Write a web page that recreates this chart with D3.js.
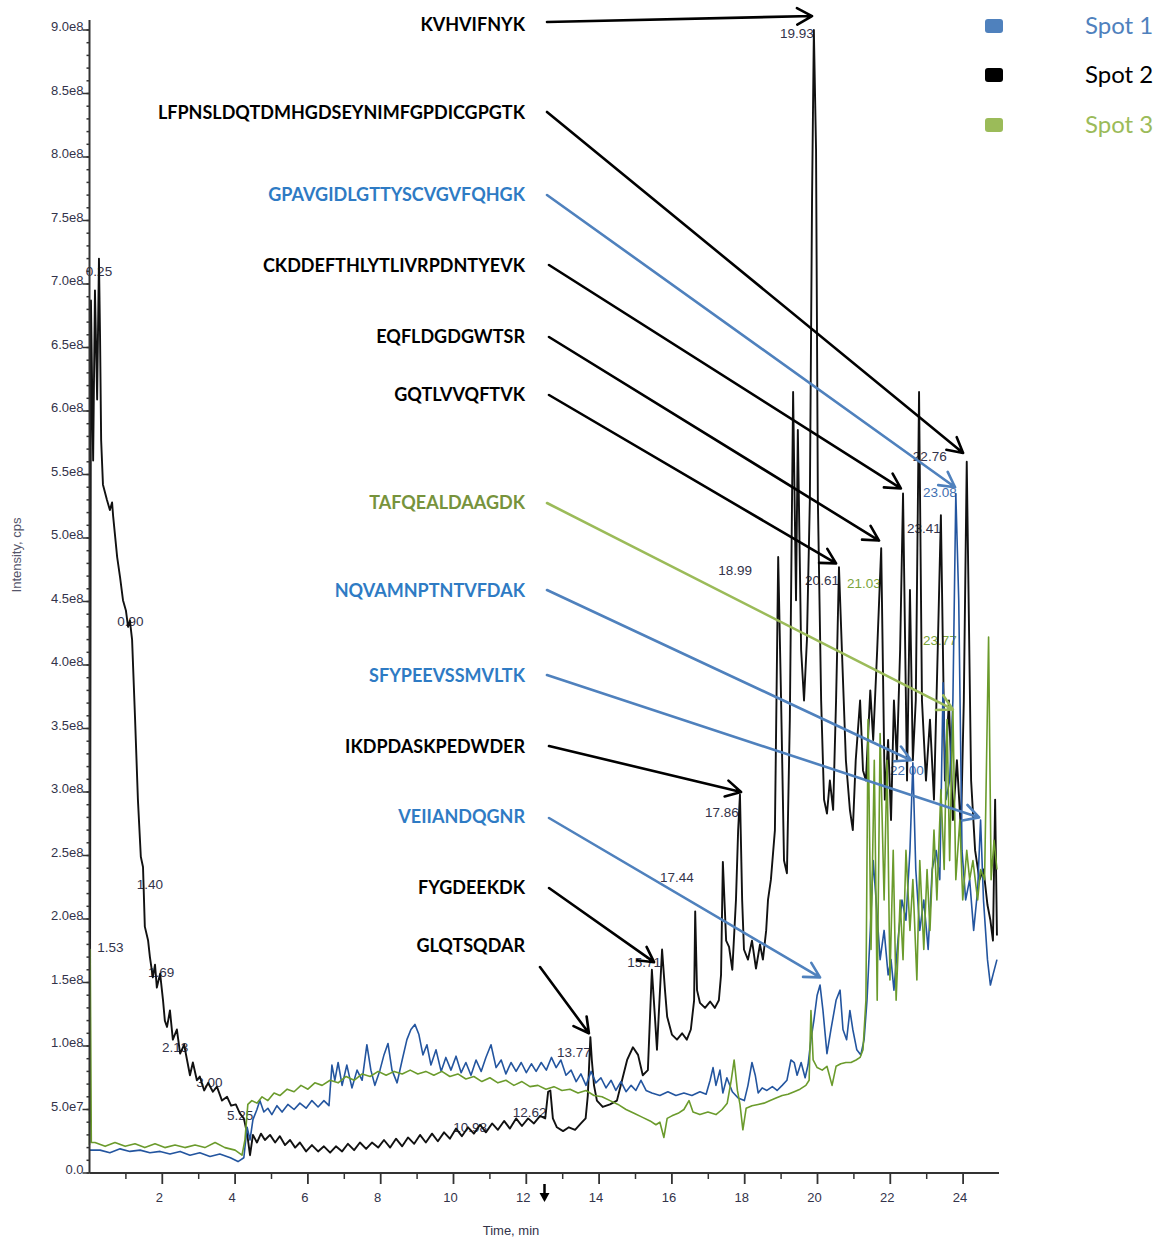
<!DOCTYPE html>
<html>
<head>
<meta charset="utf-8">
<script src="https://cdn.jsdelivr.net/npm/d3@7"></script>
<style>
  body { margin: 0; background: #fff; }
</style>
</head>
<body>
<svg id="chart" width="1162" height="1238"></svg>
<script>
// time in min, intensity in units of 1e7 cps
const spot2 = [
  [0.01, 4.6], [0.04, 68.7], [0.10, 56.1], [0.15, 69.5], [0.21, 60.9], [0.26, 72.0], [0.29, 65.8],
  [0.32, 57.7], [0.37, 54.2], [0.48, 53.0], [0.56, 52.2], [0.62, 52.8], [0.65, 51.7], [0.76, 48.5],
  [0.84, 46.9], [0.92, 45.1], [1.00, 44.3], [1.06, 43.0], [1.11, 43.5], [1.17, 42.0], [1.25, 35.9],
  [1.33, 29.4], [1.41, 24.9], [1.47, 24.1], [1.52, 19.4], [1.61, 18.3], [1.66, 17.0], [1.74, 15.4],
  [1.80, 16.4], [1.85, 14.6], [1.94, 15.7], [2.02, 13.6], [2.07, 12.0], [2.13, 11.5], [2.21, 12.8],
  [2.29, 10.5], [2.40, 11.3], [2.49, 9.4], [2.60, 10.1], [2.68, 8.9], [2.76, 7.7], [2.84, 8.7],
  [2.95, 7.3], [3.03, 7.6], [3.15, 6.5], [3.26, 7.1], [3.39, 6.4], [3.50, 6.8], [3.64, 5.7],
  [3.78, 6.0], [3.89, 5.3], [4.02, 5.4], [4.13, 4.7], [4.24, 4.3], [4.33, 3.1], [4.41, 1.4],
  [4.49, 3.0], [4.60, 2.4], [4.71, 3.1], [4.82, 2.6], [4.96, 3.0], [5.10, 2.4], [5.23, 2.9],
  [5.37, 2.2], [5.51, 2.6], [5.65, 2.0], [5.78, 2.4], [5.95, 1.7], [6.11, 2.2], [6.28, 1.7],
  [6.44, 2.1], [6.61, 1.6], [6.77, 2.1], [6.94, 1.7], [7.10, 2.3], [7.27, 1.8], [7.43, 2.4],
  [7.60, 1.9], [7.76, 2.4], [7.93, 2.0], [8.09, 2.6], [8.26, 2.0], [8.42, 2.7], [8.59, 2.1],
  [8.75, 2.8], [8.92, 2.3], [9.08, 3.0], [9.24, 2.4], [9.41, 3.1], [9.57, 2.5], [9.74, 3.2],
  [9.90, 2.7], [10.07, 3.5], [10.23, 2.9], [10.40, 3.6], [10.56, 3.1], [10.73, 3.8], [10.89, 3.2],
  [11.06, 3.9], [11.22, 3.4], [11.39, 4.1], [11.55, 3.5], [11.72, 4.3], [11.88, 3.7], [12.05, 4.3],
  [12.21, 3.9], [12.38, 4.5], [12.52, 4.3], [12.60, 6.4], [12.66, 6.5], [12.73, 4.3], [12.84, 3.6],
  [13.01, 3.3], [13.17, 3.6], [13.34, 3.4], [13.50, 3.9], [13.63, 4.3], [13.69, 6.1], [13.76, 10.7],
  [13.80, 8.9], [13.86, 6.9], [13.94, 5.7], [14.10, 5.2], [14.30, 5.4], [14.49, 5.7], [14.63, 7.3],
  [14.77, 8.9], [14.93, 9.9], [15.07, 9.3], [15.20, 7.7], [15.34, 8.1], [15.45, 16.0], [15.54, 12.0],
  [15.59, 9.7], [15.73, 17.6], [15.81, 14.4], [15.87, 12.3], [16.00, 10.9], [16.14, 10.5], [16.28, 11.0],
  [16.41, 10.5], [16.52, 11.3], [16.61, 13.6], [16.64, 20.6], [16.69, 14.4], [16.77, 13.4], [16.91, 13.0],
  [17.05, 13.5], [17.18, 13.0], [17.29, 13.6], [17.35, 15.6], [17.40, 24.5], [17.49, 18.3], [17.57, 17.8],
  [17.66, 16.0], [17.76, 21.5], [17.82, 27.0], [17.87, 29.8], [17.93, 21.5], [17.98, 17.6], [18.09, 16.8],
  [18.20, 18.3], [18.31, 16.1], [18.42, 18.0], [18.50, 16.8], [18.59, 19.1], [18.64, 21.5], [18.72, 23.1],
  [18.83, 27.0], [18.92, 48.5], [19.00, 37.2], [19.08, 24.6], [19.16, 23.6], [19.24, 35.7], [19.33, 61.5],
  [19.41, 45.1], [19.46, 58.5], [19.55, 41.2], [19.63, 37.2], [19.71, 42.0], [19.79, 53.0], [19.85, 76.6],
  [19.90, 90.0], [19.96, 80.6], [20.01, 53.0], [20.10, 37.2], [20.18, 29.4], [20.26, 28.3], [20.34, 30.9],
  [20.43, 28.6], [20.51, 37.2], [20.59, 47.7], [20.67, 41.2], [20.78, 32.5], [20.89, 28.6], [20.97, 27.0],
  [21.05, 32.5], [21.17, 37.2], [21.25, 31.7], [21.33, 30.9], [21.45, 38.0], [21.53, 34.1], [21.64, 41.2],
  [21.75, 49.2], [21.85, 29.4], [21.94, 34.1], [22.02, 27.8], [22.10, 37.2], [22.18, 32.5], [22.27, 41.2],
  [22.35, 53.5], [22.46, 30.9], [22.54, 45.9], [22.62, 32.5], [22.70, 37.2], [22.79, 61.5], [22.87, 37.2],
  [22.98, 30.9], [23.09, 35.7], [23.20, 29.4], [23.31, 42.0], [23.39, 51.8], [23.50, 30.9], [23.61, 37.2],
  [23.72, 27.8], [23.83, 32.5], [23.94, 27.0], [24.02, 37.2], [24.10, 56.0], [24.22, 30.9], [24.33, 25.4],
  [24.45, 23.1], [24.56, 23.9], [24.67, 21.1], [24.75, 19.9], [24.82, 18.3], [24.88, 29.4], [24.93, 18.7]
];

const spot1 = [
  [0.01, 1.8], [0.29, 1.8], [0.56, 1.6], [0.84, 1.9], [1.11, 1.7], [1.39, 1.8], [1.66, 1.6],
  [1.94, 1.7], [2.21, 1.5], [2.49, 1.7], [2.76, 1.4], [3.03, 1.6], [3.31, 1.3], [3.58, 1.5],
  [3.87, 1.2], [4.08, 0.9], [4.24, 1.2], [4.33, 3.6], [4.41, 2.6], [4.49, 4.2], [4.60, 5.0],
  [4.68, 5.7], [4.79, 4.8], [4.90, 5.1], [5.01, 4.6], [5.15, 5.3], [5.29, 4.8], [5.45, 5.4],
  [5.62, 5.0], [5.78, 5.5], [5.95, 5.1], [6.11, 5.7], [6.28, 5.2], [6.44, 5.7], [6.58, 5.3],
  [6.66, 8.5], [6.74, 7.3], [6.83, 8.7], [6.94, 6.9], [7.07, 8.5], [7.21, 6.7], [7.35, 8.1],
  [7.49, 7.3], [7.62, 10.1], [7.73, 8.1], [7.84, 6.9], [7.98, 8.1], [8.09, 9.3], [8.20, 10.2],
  [8.31, 8.1], [8.45, 7.1], [8.59, 8.9], [8.72, 10.5], [8.83, 11.3], [8.94, 11.7], [9.05, 10.9],
  [9.16, 9.3], [9.27, 10.1], [9.38, 8.5], [9.52, 9.7], [9.66, 8.0], [9.79, 9.1], [9.93, 8.1],
  [10.07, 9.2], [10.21, 7.9], [10.34, 8.7], [10.48, 7.7], [10.62, 8.9], [10.76, 8.0], [10.89, 9.1],
  [11.03, 10.1], [11.17, 8.3], [11.31, 8.9], [11.44, 7.8], [11.58, 8.7], [11.72, 8.0], [11.86, 8.7],
  [12.00, 7.9], [12.14, 8.6], [12.27, 8.0], [12.41, 8.7], [12.55, 8.1], [12.69, 9.1], [12.82, 8.3],
  [12.95, 8.9], [13.09, 7.7], [13.23, 8.1], [13.37, 7.2], [13.50, 7.8], [13.64, 6.9], [13.78, 8.0],
  [13.91, 7.1], [14.05, 7.5], [14.19, 6.7], [14.33, 7.3], [14.46, 6.5], [14.60, 7.2], [14.74, 6.4],
  [14.88, 6.9], [15.01, 6.5], [15.15, 7.3], [15.29, 6.5], [15.45, 6.3], [15.67, 6.1], [15.89, 6.4],
  [16.11, 6.1], [16.33, 6.3], [16.55, 6.1], [16.77, 6.4], [16.94, 6.2], [17.05, 7.3], [17.13, 8.3],
  [17.21, 6.9], [17.32, 8.1], [17.40, 6.3], [17.51, 7.5], [17.66, 6.4], [17.82, 5.9], [17.99, 5.7],
  [18.09, 6.9], [18.20, 8.7], [18.29, 7.7], [18.37, 6.3], [18.48, 6.7], [18.61, 6.5], [18.76, 6.8],
  [18.89, 6.5], [19.03, 6.9], [19.16, 7.3], [19.27, 8.9], [19.36, 8.7], [19.44, 7.7], [19.55, 8.7],
  [19.66, 7.5], [19.74, 8.5], [19.82, 10.5], [19.90, 12.0], [19.99, 14.0], [20.07, 14.8], [20.15, 12.8],
  [20.26, 9.4], [20.37, 11.3], [20.51, 13.6], [20.62, 14.4], [20.70, 11.3], [20.80, 10.5], [20.89, 12.8],
  [20.97, 11.3], [21.08, 9.7], [21.19, 9.3], [21.28, 10.5], [21.36, 13.6], [21.45, 19.1], [21.53, 24.6],
  [21.61, 21.5], [21.72, 16.8], [21.83, 19.1], [21.94, 15.6], [22.02, 16.8], [22.10, 14.4], [22.21, 18.3],
  [22.32, 21.5], [22.43, 19.9], [22.54, 25.4], [22.62, 32.3], [22.70, 23.9], [22.81, 19.1], [22.92, 21.5],
  [23.04, 17.6], [23.15, 23.9], [23.26, 25.4], [23.36, 23.1], [23.45, 38.6], [23.53, 29.4], [23.63, 30.9],
  [23.72, 37.2], [23.80, 53.5], [23.88, 45.1], [23.97, 25.4], [24.07, 21.5], [24.18, 23.1], [24.29, 19.1],
  [24.40, 22.3], [24.48, 27.8], [24.56, 21.5], [24.67, 16.8], [24.75, 14.8], [24.82, 15.6], [24.93, 16.8]
];

const spot3 = [
  [0.00, 2.2], [0.02, 17.6], [0.05, 2.4], [0.15, 2.4], [0.43, 2.1], [0.70, 2.4], [0.98, 2.1],
  [1.25, 2.3], [1.52, 2.0], [1.80, 2.3], [2.07, 2.0], [2.35, 2.2], [2.62, 2.0], [2.90, 2.2],
  [3.17, 2.0], [3.45, 2.4], [3.72, 2.0], [4.00, 1.8], [4.19, 1.4], [4.27, 2.6], [4.35, 5.4],
  [4.46, 5.7], [4.60, 5.5], [4.74, 6.0], [4.90, 5.7], [5.07, 6.3], [5.23, 6.1], [5.43, 6.6],
  [5.62, 6.4], [5.81, 6.9], [6.00, 6.6], [6.19, 7.1], [6.39, 6.9], [6.61, 7.3], [6.83, 7.1],
  [7.05, 7.6], [7.27, 7.3], [7.49, 7.8], [7.71, 7.6], [7.93, 8.0], [8.15, 7.7], [8.37, 8.0],
  [8.59, 7.8], [8.81, 8.1], [9.02, 7.8], [9.24, 8.0], [9.46, 7.7], [9.68, 8.0], [9.90, 7.6],
  [10.12, 7.8], [10.34, 7.4], [10.56, 7.6], [10.78, 7.2], [11.00, 7.5], [11.22, 7.1], [11.44, 7.3],
  [11.66, 6.9], [11.88, 7.2], [12.10, 6.8], [12.32, 6.9], [12.54, 6.6], [12.76, 6.8], [12.98, 6.5],
  [13.20, 6.6], [13.42, 6.3], [13.64, 6.5], [13.86, 6.1], [14.08, 6.0], [14.30, 5.7], [14.52, 5.4],
  [14.74, 5.0], [14.96, 4.7], [15.18, 4.4], [15.40, 4.1], [15.56, 3.8], [15.67, 4.0], [15.78, 2.8],
  [15.87, 4.3], [16.00, 4.5], [16.17, 4.7], [16.33, 5.0], [16.47, 5.7], [16.58, 4.8], [16.77, 4.6],
  [16.99, 4.8], [17.21, 4.6], [17.38, 5.0], [17.52, 5.5], [17.63, 7.3], [17.71, 8.9], [17.80, 6.5],
  [17.87, 5.4], [17.95, 3.4], [18.04, 5.1], [18.20, 5.3], [18.37, 5.4], [18.53, 5.5], [18.70, 5.7],
  [18.86, 5.9], [19.03, 6.1], [19.19, 6.2], [19.36, 6.4], [19.52, 6.6], [19.68, 6.9], [19.77, 7.3],
  [19.82, 12.8], [19.88, 8.9], [19.99, 8.3], [20.13, 8.1], [20.26, 8.4], [20.40, 6.9], [20.51, 8.4],
  [20.64, 8.6], [20.78, 8.7], [20.92, 8.7], [21.06, 8.9], [21.17, 9.1], [21.25, 9.7], [21.33, 13.6],
  [21.39, 35.7], [21.47, 17.6], [21.56, 32.5], [21.64, 13.6], [21.72, 34.6], [21.83, 21.5], [21.91, 32.5],
  [21.99, 15.2], [22.08, 25.4], [22.16, 13.6], [22.27, 21.5], [22.35, 16.8], [22.43, 25.4], [22.54, 19.1],
  [22.62, 23.1], [22.73, 15.2], [22.81, 24.6], [22.92, 17.6], [23.01, 23.9], [23.09, 19.1], [23.20, 27.0],
  [23.28, 21.5], [23.39, 30.2], [23.48, 23.9], [23.56, 35.7], [23.63, 24.6], [23.72, 36.5], [23.80, 23.1],
  [23.91, 27.8], [23.99, 21.5], [24.10, 25.4], [24.18, 23.1], [24.27, 24.6], [24.40, 21.5], [24.48, 23.9],
  [24.59, 23.1], [24.70, 42.2], [24.77, 23.1], [24.85, 26.2], [24.93, 23.9]
];

const spotNames = ["Spot 1", "Spot 2", "Spot 3"];
const spotColors = ["#4f81bd", "#000000", "#9bbb59"];
const traceColors = ["#23559f", "#111111", "#6b9b2c"];

// retention time labels: text, time, intensity, kind
const peakLabels = [
  ["0.25", -0.1, 70.6, "k"], ["0.90", 0.76, 43.1, "k"], ["1.40", 1.30, 22.4, "k"],
  ["1.53", 0.21, 17.4, "k"], ["1.69", 1.61, 15.4, "k"], ["2.13", 1.99, 9.5, "k"],
  ["3.00", 2.93, 6.8, "k"], ["5.25", 3.78, 4.2, "k"], ["10.98", 9.99, 3.2, "k"],
  ["12.62", 11.63, 4.4, "k"], ["13.77", 12.84, 9.1, "k"], ["15.71", 14.77, 16.2, "k"],
  ["17.44", 15.67, 22.9, "k"], ["17.86", 16.91, 28.0, "k"], ["18.99", 17.27, 47.1, "k"],
  ["19.93", 18.97, 89.4, "k"], ["20.61", 19.66, 46.3, "k"], ["21.03", 20.81, 46.1, "g"],
  ["22.76", 22.62, 56.1, "k"], ["23.08", 22.90, 53.2, "b"], ["23.41", 22.46, 50.4, "k"],
  ["22.00", 21.99, 31.3, "b"], ["23.77", 22.90, 41.6, "g"]
];

// peptides: name, colour group, peak the arrow points at (time, intensity)
const peptides = [
  ["KVHVIFNYK", "k", 19.85, 91.1],
  ["LFPNSLDQTDMHGDSEYNIMFGPDICGPGTK", "k", 24.00, 56.7],
  ["GPAVGIDLGTTYSCVGVFQHGK", "b", 23.78, 54.0],
  ["CKDDEFTHLYTLIVRPDNTYEVK", "k", 22.29, 53.9],
  ["EQFLDGDGWTSR", "k", 21.69, 49.8],
  ["GQTLVVQFTVK", "k", 20.51, 48.0],
  ["TAFQEALDAAGDK", "g", 23.72, 36.5],
  ["NQVAMNPTNTVFDAK", "b", 22.57, 32.5],
  ["SFYPEEVSSMVLTK", "b", 24.44, 28.0],
  ["IKDPDASKPEDWDER", "k", 17.90, 30.0],
  ["VEIIANDQGNR", "b", 20.07, 15.4],
  ["FYGDEEKDK", "k", 15.51, 16.6],
  ["GLQTSQDAR", "k", 13.72, 11.0]
];
const markerTime = 12.5;

// layout
const labelBase = [31, 119, 201, 272, 343, 401, 509, 597, 682, 753, 823, 894, 952];
const arrowStart = [[547, 22], [547, 112], [547, 195], [549, 265], [549, 337], [549, 395],
  [547, 503], [547, 590], [547, 675], [549, 746], [549, 818], [549, 888], [540, 967]];
const textCol = { k: "#000000", b: "#2e7bc4", g: "#77933c" };
const arrowCol = { k: "#000000", b: "#4f81bd", g: "#9bbb59" };
const peakCol = { k: "#33334a", b: "#3f6fb0", g: "#7aa43a" };

const svg = d3.select("#chart");
const x = d3.scaleLinear().domain([0, 25]).range([89.5, 999.5]);
const y = d3.scaleLinear().domain([0, 90]).range([1173, 30]);

// peak labels go under the traces
svg.append("g")
  .selectAll("text")
  .data(peakLabels)
  .join("text")
  .attr("x", (d) => x(d[1]))
  .attr("y", (d) => y(d[2]))
  .text((d) => d[0])
  .style("font-family", "Liberation Sans, Arial, sans-serif")
  .style("font-size", "13.5px")
  .style("fill", (d) => peakCol[d[3]]);

// traces
const line = d3.line().x((d) => x(d[0])).y((d) => y(d[1]));
[[spot2, traceColors[1], 1.9], [spot1, traceColors[0], 1.6], [spot3, traceColors[2], 1.6]]
  .forEach(([s, c, w]) => {
    svg.append("path")
      .datum(s)
      .attr("d", line)
      .attr("fill", "none")
      .attr("stroke", c)
      .attr("stroke-width", w)
      .attr("stroke-linejoin", "round");
  });

// y axis
const yAxis = svg.append("g").attr("transform", `translate(${x(0)},0)`);
yAxis.append("line")
  .attr("x1", 0).attr("x2", 0)
  .attr("y1", 20).attr("y2", y(0))
  .attr("stroke", "#333").attr("stroke-width", 2);
yAxis.selectAll(".minor")
  .data(d3.range(0, 91, 1))
  .join("line")
  .attr("x1", -3).attr("x2", 0)
  .attr("y1", (d) => y(d)).attr("y2", (d) => y(d))
  .attr("stroke", "#333").attr("stroke-width", 1.5);
const yTicks = d3.range(0, 91, 5);
yAxis.selectAll(".major")
  .data(yTicks)
  .join("line")
  .attr("x1", -7).attr("x2", 0)
  .attr("y1", (d) => y(d)).attr("y2", (d) => y(d))
  .attr("stroke", "#333").attr("stroke-width", 1.5);
yAxis.selectAll("text")
  .data(yTicks)
  .join("text")
  .attr("x", -6)
  .attr("y", (d) => y(d) + 1)
  .attr("text-anchor", "end")
  .text((d) => (d === 0 ? "0.0" : d < 10 ? d.toFixed(1) + "e7" : (d / 10).toFixed(1) + "e8"))
  .style("font-family", "Liberation Sans, Arial, sans-serif")
  .style("font-size", "13px")
  .style("fill", "#33334a");

// x axis
const xAxis = svg.append("g").attr("transform", `translate(0,${y(0)})`);
xAxis.append("line")
  .attr("x1", x(0)).attr("x2", 999)
  .attr("stroke", "#333").attr("stroke-width", 2);
xAxis.selectAll(".minor")
  .data(d3.range(1, 24, 2))
  .join("line")
  .attr("x1", (d) => x(d)).attr("x2", (d) => x(d))
  .attr("y1", 0).attr("y2", 6)
  .attr("stroke", "#333").attr("stroke-width", 1.5);
const xTicks = d3.range(2, 25, 2);
xAxis.selectAll(".major")
  .data(xTicks)
  .join("line")
  .attr("x1", (d) => x(d)).attr("x2", (d) => x(d))
  .attr("y1", 0).attr("y2", 11)
  .attr("stroke", "#333").attr("stroke-width", 1.8);
xAxis.selectAll("text")
  .data(xTicks)
  .join("text")
  .attr("x", (d) => x(d) - 3)
  .attr("y", 29)
  .attr("text-anchor", "middle")
  .text((d) => d)
  .style("font-family", "Liberation Sans, Arial, sans-serif")
  .style("font-size", "13px")
  .style("fill", "#33334a");

// marker under the x axis
const mx = x(markerTime);
svg.append("path")
  .attr("d", `M${mx},1184 L${mx},1196`)
  .attr("stroke", "#000").attr("stroke-width", 2.5);
svg.append("path")
  .attr("d", `M${mx - 5},1193 L${mx + 5},1193 L${mx},1202 Z`)
  .attr("fill", "#000");

svg.append("text")
  .attr("x", 511).attr("y", 1235)
  .attr("text-anchor", "middle")
  .text("Time, min")
  .style("font-family", "Liberation Sans, Arial, sans-serif")
  .style("font-size", "13px")
  .style("fill", "#33334a");

svg.append("text")
  .attr("transform", "translate(21,555) rotate(-90)")
  .attr("text-anchor", "middle")
  .text("Intensity, cps")
  .style("font-family", "Liberation Sans, Arial, sans-serif")
  .style("font-size", "13px")
  .style("fill", "#55556a");

// peptide annotations
const ann = svg.append("g");
peptides.forEach((p, i) => {
  ann.append("text")
    .attr("x", 525)
    .attr("y", labelBase[i])
    .attr("text-anchor", "end")
    .text(p[0])
    .style("font-family", "Lato, sans-serif")
    .style("font-weight", 700)
    .style("font-size", "18px")
    .style("fill", textCol[p[1]]);

  const [x1, y1] = arrowStart[i];
  const x2 = x(p[2]), y2 = y(p[3]);
  const a = Math.atan2(y2 - y1, x2 - x1);
  const len = 17, spread = 0.5;
  const col = arrowCol[p[1]];
  ann.append("path")
    .attr("d", `M${x1},${y1} L${x2},${y2}` +
      ` M${x2 - len * Math.cos(a - spread)},${y2 - len * Math.sin(a - spread)} L${x2},${y2}` +
      ` L${x2 - len * Math.cos(a + spread)},${y2 - len * Math.sin(a + spread)}`)
    .attr("fill", "none")
    .attr("stroke", col)
    .attr("stroke-width", 2.6)
    .attr("stroke-linecap", "round")
    .attr("stroke-linejoin", "round");
});

// legend
const leg = svg.append("g");
const legY = [26, 75, 125];
spotNames.forEach((n, i) => {
  leg.append("rect")
    .attr("x", 985).attr("y", legY[i] - 7)
    .attr("width", 18).attr("height", 14)
    .attr("rx", 3)
    .attr("fill", spotColors[i]);
  leg.append("text")
    .attr("x", 1085).attr("y", legY[i] + 8)
    .text(n)
    .style("font-family", "Lato, sans-serif")
    .style("font-size", "24px")
    .style("fill", spotColors[i]);
});
</script>
</body>
</html>
